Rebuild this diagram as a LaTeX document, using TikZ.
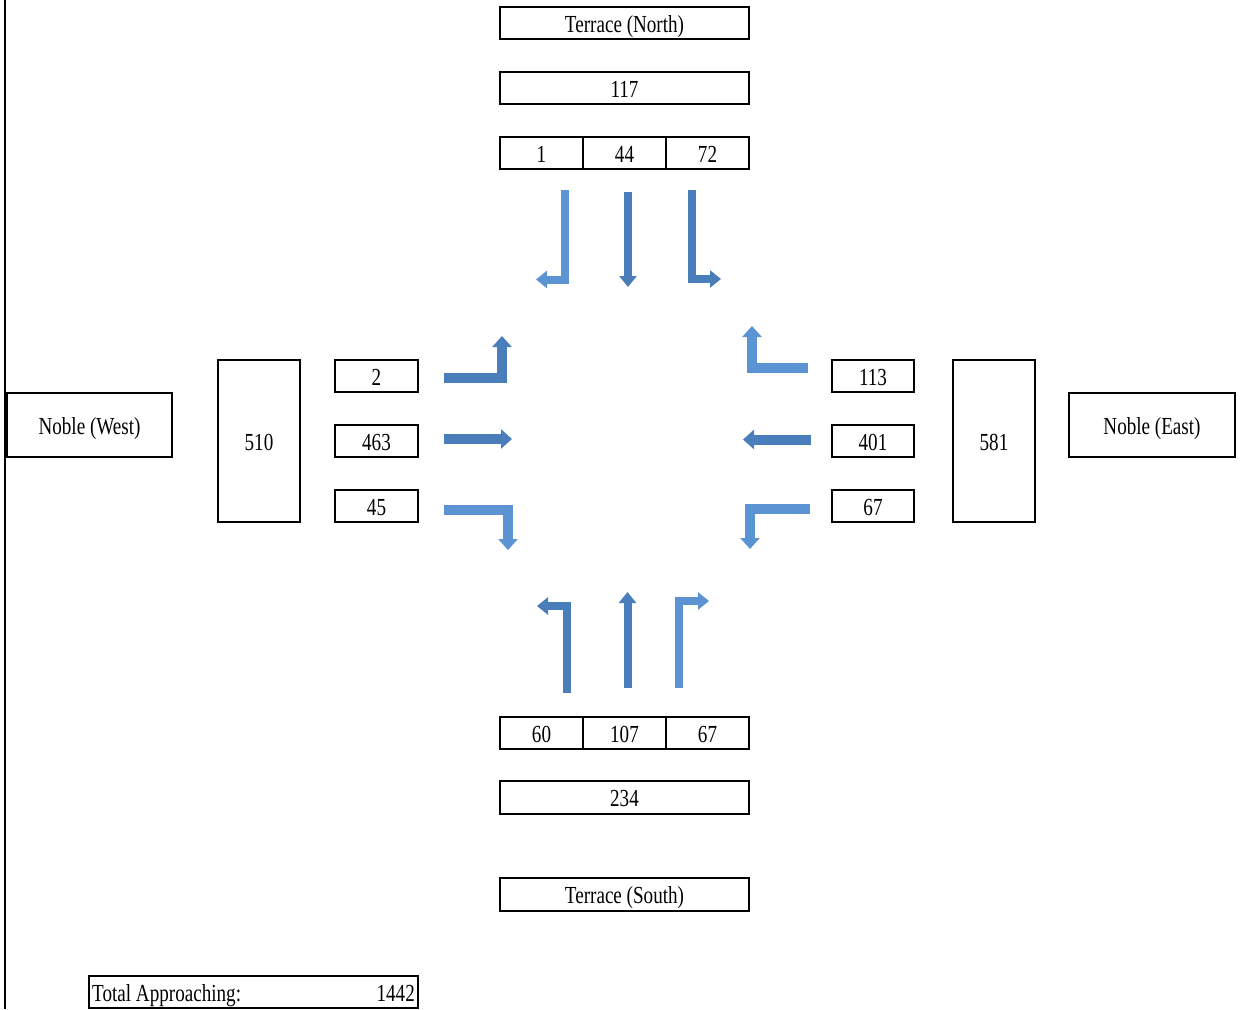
\documentclass[tikz,border=0pt]{standalone}
\usepackage{fontspec}
\newfontfamily\tnr[FakeStretch=0.78]{Liberation Serif}
\usetikzlibrary{arrows.meta}
\definecolor{adark}{HTML}{4A7EBB}
\definecolor{alight}{HTML}{5B93D3}
\tikzset{
  box/.style={draw, line width=1.8pt, inner sep=0pt, text height=18pt, text depth=0pt, font=\tnr\fontsize{24.5}{24.5}\selectfont},
  turn/.style={line width=8pt, line join=miter, -{Triangle[length=11pt,width=17pt]}},
  turnw/.style={line width=10pt, line join=miter, -{Triangle[length=11pt,width=19pt]}},
}
\begin{document}
\begin{tikzpicture}[x=1pt,y=-1pt]
\useasboundingbox (0,0) rectangle (1241,1009);
\coordinate (ltop) at (5,0);
\coordinate (lbot) at (5,1009);
\draw[line width=1.5pt] (ltop) -- (lbot);
% North
\node[box, minimum width=249, minimum height=32] (tn) at (624.5,23) {Terrace (North)};
\node[box, minimum width=249, minimum height=32] (n117) at (624.5,88) {117};
\node[box, minimum width=83, minimum height=32] (n1) at (541.5,153) {1};
\node[box, minimum width=83, minimum height=32] (n44) at (624.5,153) {44};
\node[box, minimum width=83, minimum height=32] (n72) at (707.5,153) {72};
% South
\node[box, minimum width=83, minimum height=32] (s60) at (541.5,733) {60};
\node[box, minimum width=83, minimum height=32] (s107) at (624.5,733) {107};
\node[box, minimum width=83, minimum height=32] (s67) at (707.5,733) {67};
\node[box, minimum width=249, minimum height=33] (s234) at (624.5,797.5) {234};
\node[box, minimum width=249, minimum height=33] (ts) at (624.5,894.5) {Terrace (South)};
% West
\node[box, minimum width=165, minimum height=64] (nw) at (89.5,425) {Noble (West)};
\node[box, minimum width=82, minimum height=162] (w510) at (259,441) {510};
\node[box, minimum width=83, minimum height=32] (w2) at (376.5,376) {2};
\node[box, minimum width=83, minimum height=32] (w463) at (376.5,441) {463};
\node[box, minimum width=83, minimum height=32] (w45) at (376.5,506) {45};
% East
\node[box, minimum width=82, minimum height=32] (e113) at (873,376) {113};
\node[box, minimum width=82, minimum height=32] (e401) at (873,441) {401};
\node[box, minimum width=82, minimum height=32] (e67) at (873,506) {67};
\node[box, minimum width=82, minimum height=162] (e581) at (994,441) {581};
\node[box, minimum width=166, minimum height=64] (ne) at (1152,425) {Noble (East)};
% Total
\node[box, minimum width=329, minimum height=32] (tot) at (253.5,992) {};
\node[font=\tnr\fontsize{24.5}{24.5}\selectfont, anchor=base west, inner sep=0pt] (totl) at (92,1001) {Total Approaching:};
\node[font=\tnr\fontsize{24.5}{24.5}\selectfont, anchor=base east, inner sep=0pt] (totn) at (415,1001) {1442};
% North arrows
\draw[turn, alight] (564.5,190) -- (564.5,279.5) -- (536,279.5);
\draw[turn, adark] (628,192) -- (628,287);
\draw[turn, adark] (692,190) -- (692,279) -- (721,279);
% West arrows
\draw[turnw, adark] (444,378) -- (502,378) -- (502,336);
\draw[turnw, adark] (444,439) -- (512,439);
\draw[turnw, alight] (444,510) -- (508,510) -- (508,550);
% East arrows
\draw[turnw, alight] (808,367.5) -- (752,367.5) -- (752,326);
\draw[turnw, adark] (811,439.5) -- (743,439.5);
\draw[turnw, alight] (810,508.5) -- (750,508.5) -- (750,549);
% South arrows
\draw[turn, adark] (567,693) -- (567,606) -- (537,606);
\draw[turn, adark] (627.5,688) -- (627.5,592);
\draw[turn, alight] (678.5,688) -- (678.5,601) -- (709,601);
\end{tikzpicture}
\end{document}
